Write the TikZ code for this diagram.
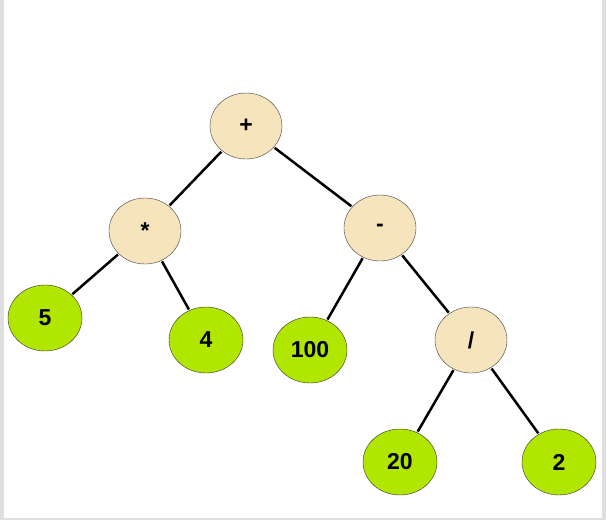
\documentclass[tikz,border=0pt]{standalone}
\usepackage{fontspec}
\setmainfont{Liberation Sans}
\usetikzlibrary{shapes.geometric}
\definecolor{opfill}{RGB}{246,228,188}
\definecolor{leaffill}{RGB}{176,230,0}
\tikzset{
  opnode/.style={ellipse,draw=gray!50!black,fill=opfill,minimum width=72pt,minimum height=66pt,inner sep=0pt,font=\fontsize{23}{25}\selectfont\bfseries},
  leafnode/.style={ellipse,draw=gray!40!black,fill=leaffill,minimum width=74pt,minimum height=66pt,inner sep=0pt,font=\fontsize{23}{25}\selectfont\bfseries},
  edge/.style={line width=2.5pt,shorten <=1pt,shorten >=1pt}
}
\begin{document}
\begin{tikzpicture}[x=1pt,y=-1pt]
\useasboundingbox (0,0) rectangle (606,520);
\fill[gray!25] (0,0) rectangle (606,520);
\fill[white] (4,0) rectangle (602,518);
\node[opnode] (plus) at (246,126) {+};
\node[opnode] (times) at (145,231) {*};
\node[opnode] (minus) at (380,228) {-};
\node[opnode] (div) at (471,340) {/};
\node[leafnode] (five) at (45,318) {5};
\node[leafnode] (four) at (206,340) {4};
\node[leafnode] (hundred) at (310,350) {100};
\node[leafnode] (twenty) at (400,462) {20};
\node[leafnode] (two) at (559,462) {2};
\draw[edge] (plus) -- (times);
\draw[edge] (plus) -- (minus);
\draw[edge] (times) -- (five);
\draw[edge] (times) -- (four);
\draw[edge] (minus) -- (hundred);
\draw[edge] (minus) -- (div);
\draw[edge] (div) -- (twenty);
\draw[edge] (div) -- (two);
\end{tikzpicture}
\end{document}
